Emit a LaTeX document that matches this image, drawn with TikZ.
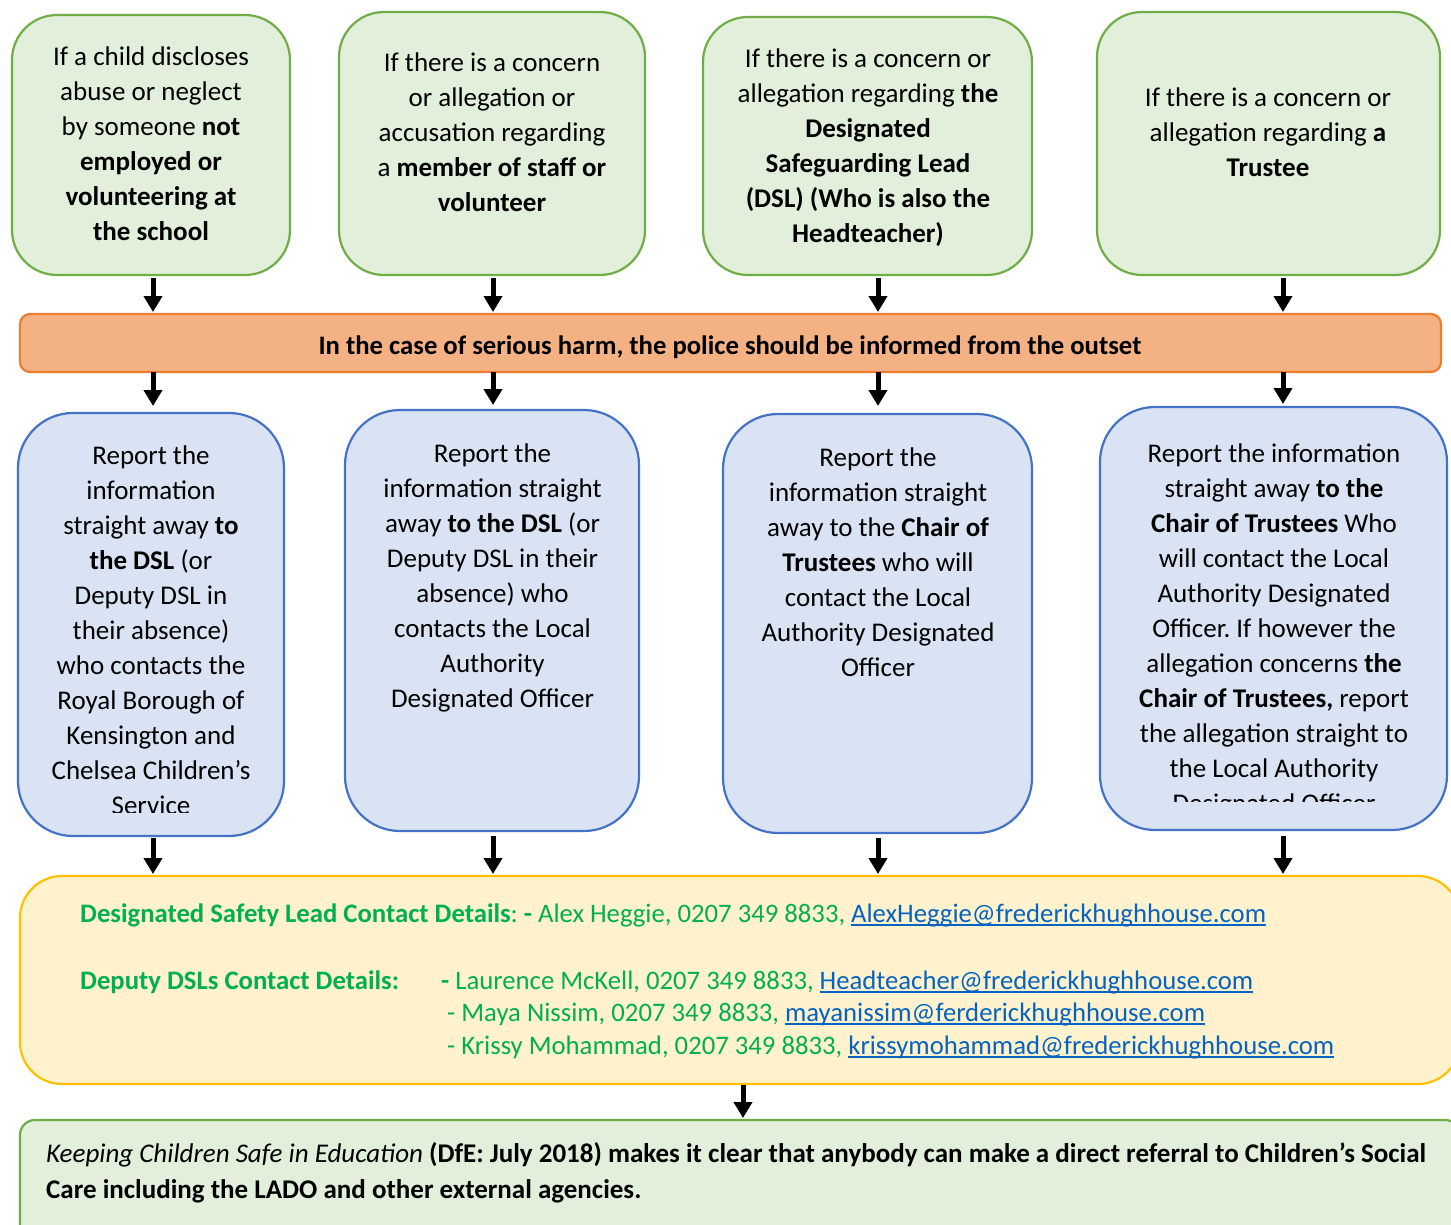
\documentclass[tikz,border=0pt]{standalone}
\usepackage{fontspec}
\setmainfont{Carlito}
\usetikzlibrary{arrows.meta}
\frenchspacing
\definecolor{gfill}{HTML}{E2EFDA}
\definecolor{gdraw}{HTML}{70AD47}
\definecolor{ofill}{HTML}{F4B183}
\definecolor{odraw}{HTML}{ED7D31}
\definecolor{bfill}{HTML}{DAE3F3}
\definecolor{bdraw}{HTML}{4472C4}
\definecolor{yfill}{HTML}{FFF2CC}
\definecolor{ydraw}{HTML}{FFC000}
\definecolor{tgreen}{HTML}{00B050}
\definecolor{linkblue}{HTML}{0563C1}
\newcommand\mylink[1]{{\color{linkblue}\setbox0\hbox{#1}\rlap{\rule[-4pt]{\wd0}{1.6pt}}\box0}}
\begin{document}
\begin{tikzpicture}[x=1pt,y=-1pt,
  box/.style={draw, line width=2.2pt, inner sep=0pt, outer sep=0pt, rectangle},
  gbox/.style={box, fill=gfill, draw=gdraw, rounded corners=45pt},
  obox/.style={box, fill=ofill, draw=odraw, rounded corners=10pt},
  bbox/.style={box, fill=bfill, draw=bdraw, rounded corners=55pt},
  ybox/.style={box, fill=yfill, draw=ydraw, rounded corners=42pt},
  fbox/.style={box, fill=gfill, draw=gdraw, rounded corners=15pt},
  txt/.style={align=center, inner sep=0pt, font=\fontsize{27}{35}\selectfont},
  ytxt/.style={anchor=base west, inner sep=0pt, text=tgreen, font=\fontsize{26.7}{33}\selectfont},
  arr/.style={line width=5pt, -{Triangle[width=18pt,length=16pt]}}
]
\fill[white] (0,0) rectangle (1451,1225);
\useasboundingbox (0,0) rectangle (1451,1225);

% top row
\node[gbox, minimum width=278pt, minimum height=260pt] (g1) at (151,145) {};
\node[gbox, minimum width=306pt, minimum height=263pt] (g2) at (492,143.5) {};
\node[gbox, minimum width=329pt, minimum height=258pt] (g3) at (867.5,146) {};
\node[gbox, minimum width=343pt, minimum height=263pt] (g4) at (1268.5,143.5) {};

\node[txt] (tg1) at (151,143.5) {If a child discloses\\abuse or neglect\\by someone \textbf{not}\\\textbf{employed or}\\\textbf{volunteering at}\\\textbf{the school}};
\node[txt] (tg2) at (492,132) {If there is a concern\\or allegation or\\accusation regarding\\a \textbf{member of staff or}\\\textbf{volunteer}};
\node[txt] (tg3) at (868,147.5) {If there is a concern or\\allegation regarding \textbf{the}\\\textbf{Designated}\\\textbf{Safeguarding Lead}\\\textbf{(DSL) (Who is also the}\\\textbf{Headteacher)}};
\node[txt] (tg4) at (1268,132) {If there is a concern or\\allegation regarding \textbf{a}\\\textbf{Trustee}};

% orange band
\node[obox, minimum width=1421pt, minimum height=58pt] (o) at (730.5,343) {};
\node[txt, font=\fontsize{26.7}{35}\selectfont] (to) at (730,347) {\textbf{In the case of serious harm, the police should be informed from the outset}};

% blue row
\node[bbox, minimum width=266pt, minimum height=423pt] (b1) at (151,624.5) {};
\node[bbox, minimum width=294pt, minimum height=421pt] (b2) at (492,620.5) {};
\node[bbox, minimum width=309pt, minimum height=419pt] (b3) at (877.5,623.5) {};
\node[bbox, minimum width=347pt, minimum height=423pt] (b4) at (1273.5,618.5) {};

\begin{scope}
\clip (0,400) rectangle (1451,812);
\node[txt] (tb1) at (151,630) {Report the\\information\\straight away \textbf{to}\\\textbf{the DSL} (or\\Deputy DSL in\\their absence)\\who contacts the\\Royal Borough of\\Kensington and\\Chelsea Children’s\\Service};
\end{scope}
\node[txt] (tb2) at (492.5,577.5) {Report the\\information straight\\away \textbf{to the DSL} (or\\Deputy DSL in their\\absence) who\\contacts the Local\\Authority\\Designated Officer};
\node[txt] (tb3) at (878,562) {Report the\\information straight\\away to the \textbf{Chair of}\\\textbf{Trustees} who will\\contact the Local\\Authority Designated\\Officer};
\begin{scope}
\clip (0,400) rectangle (1451,801);
\node[txt] (tb4) at (1274,630.5) {Report the information\\straight away \textbf{to the}\\\textbf{Chair of Trustees} Who\\will contact the Local\\Authority Designated\\Officer. If however the\\allegation concerns \textbf{the}\\\textbf{Chair of Trustees,} report\\the allegation straight to\\the Local Authority\\Designated Officer};
\end{scope}

% yellow contacts box
\node[ybox, minimum width=1440pt, minimum height=208pt] (y) at (740,980) {};
\node[ytxt] (y1) at (80,922) {\textbf{Designated Safety Lead Contact Details}: \textbf{-} Alex Heggie, 0207 349 8833, \mylink{AlexHeggie@frederickhughhouse.com}};
\node[ytxt] (y2) at (80,989) {\textbf{Deputy DSLs Contact Details:}};
\node[ytxt] (y3) at (441,989) {\textbf{-} Laurence McKell, 0207 349 8833, \mylink{Headteacher@frederickhughhouse.com}};
\node[ytxt] (y4) at (447,1021) {- Maya Nissim, 0207 349 8833, \mylink{mayanissim@ferderickhughhouse.com}};
\node[ytxt] (y5) at (447,1054) {- Krissy Mohammad, 0207 349 8833, \mylink{krissymohammad@frederickhughhouse.com}};

% bottom box
\node[fbox, minimum width=1440pt, minimum height=130pt] (f) at (740,1185) {};
\node[txt, align=left, anchor=west, font=\fontsize{27}{36}\selectfont] (tf) at (46,1173) {\textit{Keeping Children Safe in Education} \textbf{(DfE: July 2018) makes it clear that anybody can make a direct referral to Children’s Social}\\\textbf{Care including the LADO and other external agencies.}};

% arrow columns
\coordinate (c1) at (153,0);
\coordinate (c2) at (493,0);
\coordinate (c3) at (878,0);
\coordinate (c4) at (1283,0);
\coordinate (c5) at (743,0);

\draw[arr, shorten <=3pt, shorten >=2pt] (g1.south -| c1) -- (o.north -| c1);
\draw[arr, shorten <=3pt, shorten >=2pt] (g2.south -| c2) -- (o.north -| c2);
\draw[arr, shorten <=3pt, shorten >=2pt] (g3.south -| c3) -- (o.north -| c3);
\draw[arr, shorten <=3pt, shorten >=2pt] (g4.south -| c4) -- (o.north -| c4);

\draw[arr, shorten >=7pt] (o.south -| c1) -- (b1.north -| c1);
\draw[arr, shorten >=5pt] (o.south -| c2) -- (b2.north -| c2);
\draw[arr, shorten >=8pt] (o.south -| c3) -- (b3.north -| c3);
\draw[arr, shorten >=3pt] (o.south -| c4) -- (b4.north -| c4);

\draw[arr, shorten <=2pt, shorten >=2pt] (b1.south -| c1) -- (y.north -| c1);
\draw[arr, shorten <=5pt, shorten >=2pt] (b2.south -| c2) -- (y.north -| c2);
\draw[arr, shorten <=5pt, shorten >=2pt] (b3.south -| c3) -- (y.north -| c3);
\draw[arr, shorten <=6pt, shorten >=2pt] (b4.south -| c4) -- (y.north -| c4);

\draw[arr, shorten <=1pt, shorten >=2pt] (y.south -| c5) -- (f.north -| c5);
\end{tikzpicture}
\end{document}
